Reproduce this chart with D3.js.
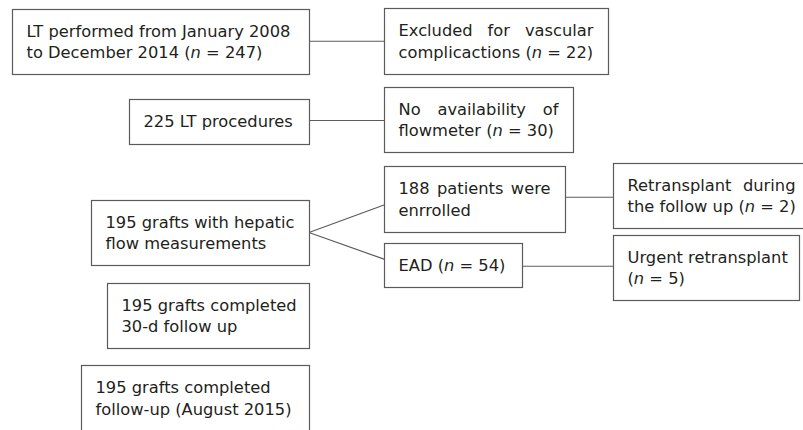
<!DOCTYPE html>
<html>
<head>
<meta charset="utf-8">
<title>Flow chart</title>
<script src="https://d3js.org/d3.v7.min.js"></script>
<style>
  body { margin: 0; background: #fff; }
  svg { display: block; }
</style>
</head>
<body>
<svg></svg>
<script>
    // box texts, one string per line; *n* is set in italic
    var boxIds = ["start", "excl", "procs", "noflow", "grafts", "enrolled", "ead", "retx", "urgent", "fu30", "fuEnd"];
    var boxLines = [
        ["LT performed from January 2008", "to December 2014 (*n* = 247)"],
        ["Excluded for vascular", "complicactions (*n* = 22)"],
        ["225 LT procedures"],
        ["No availability of", "flowmeter (*n* = 30)"],
        ["195 grafts with hepatic", "flow measurements"],
        ["188 patients were", "enrrolled"],
        ["EAD (*n* = 54)"],
        ["Retransplant during", "the follow up (*n* = 2)"],
        ["Urgent retransplant", "(*n* = 5)"],
        ["195 grafts completed", "30-d follow up"],
        ["195 grafts completed", "follow-up (August 2015)"]
    ];
    var linkFrom = ["start", "procs", "grafts", "grafts", "enrolled", "ead"];
    var linkTo   = ["excl", "noflow", "enrolled", "ead", "retx", "urgent"];

    // Variables
    var width = 803;
    var height = 430;
    var fontSize = 16.3;
    var lineGap = 21.5;
    var pad = 14.5;
    var stroke = "#5b5b5b";
    var ink = "#231f20";

    // where each box sits (left, top, width, height) and whether its text is justified
    var layout = {
        start:    {x: 12,  y: 9,   w: 297, h: 65, justify: false},
        excl:     {x: 384, y: 8,   w: 224, h: 66, justify: true},
        procs:    {x: 129, y: 99,  w: 180, h: 45, justify: false},
        noflow:   {x: 384, y: 87,  w: 189, h: 65, justify: true},
        grafts:   {x: 91,  y: 200, w: 218, h: 65, justify: false},
        enrolled: {x: 384, y: 166, w: 181, h: 66, justify: true},
        ead:      {x: 384, y: 243, w: 138, h: 44, justify: false},
        retx:     {x: 613, y: 163, w: 197, h: 65, justify: true},
        urgent:   {x: 613, y: 235, w: 186, h: 65, justify: false},
        fu30:     {x: 107, y: 283, w: 202, h: 65, justify: false},
        fuEnd:    {x: 81,  y: 365, w: 228, h: 66, justify: false}
    };

    var boxes = boxIds.map(function (id, i) {
        var b = layout[id];
        return {id: id, lines: boxLines[i], x: b.x, y: b.y, w: b.w, h: b.h, justify: b.justify,
                cy: b.y + b.h / 2};
    });
    var byId = {};
    boxes.forEach(function (b) { byId[b.id] = b; });

    var links = linkFrom.map(function (f, i) {
        var s = byId[f], t = byId[linkTo[i]];
        var dy = s.cy - t.cy;
        var y1, y2;
        if (Math.abs(dy) < 10) {
            y1 = y2 = (s.cy + t.cy) / 2;
        } else {
            y1 = s.cy;
            y2 = t.cy + 0.18 * dy;
        }
        return {x1: s.x + s.w, y1: y1, x2: t.x, y2: y2};
    });

    var svg = d3.select("svg")
        .attr("width", width)
        .attr("height", height)
        .style("font-family", "'DejaVu Sans', Verdana, sans-serif")
        .style("font-size", fontSize + "px");

    // connectors
    svg.append("g").selectAll("line")
        .data(links)
        .enter().append("line")
        .attr("x1", function (d) { return d.x1; })
        .attr("y1", function (d) { return d.y1; })
        .attr("x2", function (d) { return d.x2; })
        .attr("y2", function (d) { return d.y2; })
        .attr("stroke", stroke)
        .attr("stroke-width", 1.2);

    var node = svg.append("g").selectAll("g")
        .data(boxes)
        .enter().append("g");

    node.append("rect")
        .attr("x", function (d) { return d.x + 0.5; })
        .attr("y", function (d) { return d.y + 0.5; })
        .attr("width", function (d) { return d.w; })
        .attr("height", function (d) { return d.h; })
        .attr("fill", "#fff")
        .attr("stroke", stroke)
        .attr("stroke-width", 1.2);

    // measuring helper
    var probe = svg.append("text").attr("visibility", "hidden");
    function textWidth(s) {
        probe.text(s);
        return probe.node().getComputedTextLength();
    }

    node.each(function (d) {
        var g = d3.select(this);
        var n = d.lines.length;
        var inner = d.w - 2 * pad;
        d.lines.forEach(function (line, i) {
            var base = d.cy + 5.8 + (i - (n - 1) / 2) * lineGap;
            var t = g.append("text")
                .attr("y", base)
                .attr("fill", ink);
            if (d.justify && i < n - 1) {
                // spread the words over the whole inner width
                var words = line.split(" ");
                var ws = words.map(textWidth);
                var total = d3.sum(ws);
                var gap = (inner - total) / (words.length - 1);
                var x = d.x + pad;
                words.forEach(function (w, k) {
                    t.append("tspan").attr("x", x).text(w);
                    x += ws[k] + gap;
                });
            } else {
                t.attr("x", d.x + pad);
                line.split("*").forEach(function (seg, k) {
                    if (!seg) return;
                    var sp = t.append("tspan").text(seg);
                    if (k % 2 === 1) sp.style("font-style", "italic");
                });
            }
        });
    });
    probe.remove();
</script>
</body>
</html>
